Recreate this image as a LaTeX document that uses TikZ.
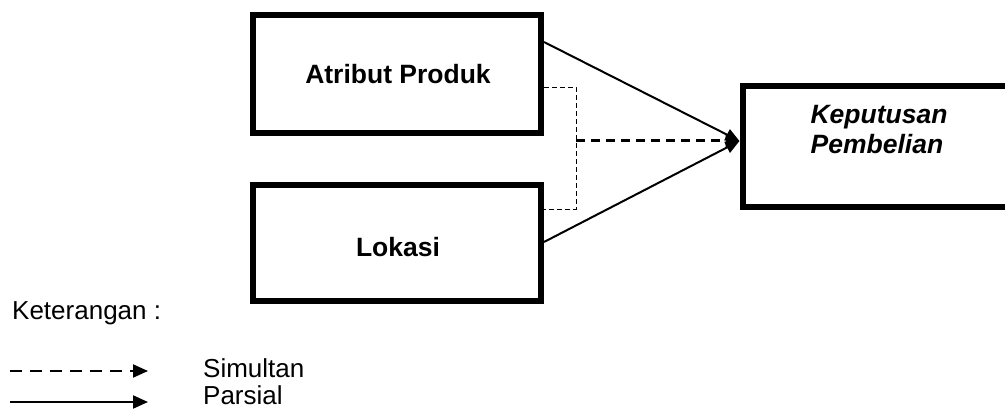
\documentclass[tikz,border=0pt]{standalone}
\usepackage{fontspec}
\setmainfont{Liberation Sans}
\usetikzlibrary{arrows.meta}
\tikzset{
  varbox/.style={draw=black, line width=6pt, minimum width=#1, inner sep=0pt, outer sep=3pt},
  boxlabel/.style={anchor=base, inner sep=0pt, font=\fontsize{26.5}{30}\selectfont\bfseries},
  plainlabel/.style={anchor=base west, inner sep=0pt, font=\fontsize{26}{30}\selectfont},
  parsial/.style={line width=2pt, -{Triangle[length=14pt,width=12pt]}},
  simultan/.style={line width=3pt, dash pattern=on 9pt off 6pt, -{Triangle[length=14pt,width=12pt]}},
  guide/.style={line width=0.9pt, dash pattern=on 5pt off 3pt},
  legsolid/.style={line width=2pt, -{Triangle[length=15pt,width=13pt]}},
  legdash/.style={line width=2pt, dash pattern=on 12pt off 8pt, -{Triangle[length=15pt,width=13pt]}}
}
\begin{document}
\begin{tikzpicture}[x=1pt, y=-1pt]
\path[use as bounding box] (0,0) rectangle (1005,409);
\clip (0,0) rectangle (1005,409);
% boxes
\node[varbox=288pt, minimum height=118pt] (ap) at (397,74) {};
\node[varbox=288pt, minimum height=116pt] (lok) at (397,243) {};
\node[varbox=267.5pt, minimum height=121.5pt] (kp) at (876.25,146.75) {};
% labels
\node[boxlabel] (tap) at (398,84) {Atribut Produk};
\node[boxlabel] (tlok) at (398,257) {Lokasi};
\node[boxlabel, font=\fontsize{26.5}{30}\selectfont\bfseries\itshape] (tkp1) at (879,124) {Keputusan};
\node[boxlabel, font=\fontsize{26.5}{30}\selectfont\bfseries\itshape] (tkp2) at (877,154) {Pembelian};
% connectors
\coordinate (j) at (576,141);
\coordinate (tip) at ([yshift=5.75pt]kp.west);
\draw[parsial] ([yshift=32pt]ap.east) -- (tip);
\draw[parsial] ([yshift=1pt]lok.east) -- (tip);
\draw[guide] ([yshift=-13pt]ap.east) -| (j) |- ([yshift=34pt]lok.east);
\draw[simultan] (j) -- (tip);
% legend
\node[plainlabel] (ket) at (12,319) {Keterangan :};
\coordinate (l1s) at (10,371);
\coordinate (l1e) at (148,371);
\coordinate (l2s) at (10,402);
\coordinate (l2e) at (148,402);
\draw[legdash] (l1s) -- (l1e);
\draw[legsolid] (l2s) -- (l2e);
\node[plainlabel] (sim) at (203,377) {Simultan};
\node[plainlabel] (par) at (203,404) {Parsial};
\end{tikzpicture}
\end{document}
